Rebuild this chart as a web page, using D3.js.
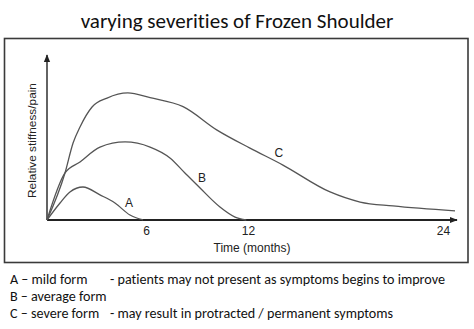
<!DOCTYPE html>
<html><head><meta charset="utf-8">
<script src="https://cdn.jsdelivr.net/npm/d3@7"></script>
<style>body{margin:0;background:#fff} text{font-variant-ligatures:none;font-feature-settings:"liga" 0}</style>
</head><body>
<svg id="c" width="474" height="329"></svg>
<script>
const title = "varying severities of Frozen Shoulder";
const xTickValues = [6, 12, 24];
const xLabel = "Time (months)";
const yLabel = "Relative stiffness/pain";
const seriesA = [[0,0],[0.79,10.3],[1.39,17],[2.18,20],[3.21,15.2],[4.12,10.3],[5.03,3],[5.82,0]];
const seriesB = [[0,0],[1.09,28.5],[2,35.2],[3.21,44.2],[4.73,47.3],[6.24,44.2],[7.41,37.6],[8.29,28.5],[9.18,19.4],[10.35,7.9],[11.24,1.8],[11.9,0]];
const seriesC = [[0,0],[1.09,28.5],[1.58,46.7],[2,56.4],[2.73,68.5],[3.64,73.9],[4.9,77],[6.24,74.1],[8.18,68.7],[10.18,54.5],[12.12,43.6],[14.15,33.3],[17.05,17],[18.9,10.9],[20.92,8.5],[24.74,5.5]];
const seriesNames = ["A","B","C"];
const labelPos = [[4.97,7.6],[9.3,23.3],[13.9,37.9]];
const legendLeft = ["A \u2013 mild form","B \u2013 average form","C \u2013 severe form"];
const legendRight = ["- patients may not present as symptoms begins to improve","","- may result in protracted / permanent symptoms"];

const svg = d3.select("#c");
const sans = "Carlito, Lato, 'Open Sans', sans-serif";
const arial = "'Liberation Sans', Arial, sans-serif";

// frame
svg.append("rect").attr("x",4.5).attr("y",38.5).attr("width",463.5).attr("height",224)
  .attr("fill","none").attr("stroke","#3a3a3a").attr("stroke-width",1.6);

const x = d3.scaleLinear().domain([0,6,12,24]).range([47,146,248,443]);
const y = d3.scaleLinear().domain([0,100]).range([220,55]);

// title
const t = svg.append("text").attr("x",237).attr("y",28).attr("text-anchor","middle")
  .attr("font-family",sans).attr("font-size",20).attr("fill","#111").text(title);
const tw = t.node().getComputedTextLength();
t.attr("font-size", 20*313/tw);

// arrows
const defs = svg.append("defs");
defs.append("marker").attr("id","arr").attr("viewBox","0 0 10 10").attr("refX",9).attr("refY",5)
  .attr("markerWidth",8).attr("markerHeight",8).attr("markerUnits","userSpaceOnUse").attr("orient","auto")
  .append("path").attr("d","M0,1L10,5L0,9Z").attr("fill","#222");

// axes lines
svg.append("line").attr("x1",x(0)).attr("y1",y(0)).attr("x2",x(24.86)).attr("y2",y(0))
  .attr("stroke","#222").attr("stroke-width",1.8).attr("marker-end","url(#arr)");
svg.append("line").attr("x1",x(0)).attr("y1",y(0)).attr("x2",x(0)).attr("y2",y(100))
  .attr("stroke","#222").attr("stroke-width",1.4).attr("marker-end","url(#arr)");

// tick labels via axis
const ax = svg.append("g").attr("transform",`translate(0,${y(0)})`)
  .call(d3.axisBottom(x).tickValues(xTickValues).tickSize(0).tickPadding(6).tickFormat(d3.format("d")));
ax.select(".domain").remove();
ax.selectAll("text").attr("font-family",arial).attr("font-size",12).attr("fill","#222");

svg.append("text").attr("x",252).attr("y",252).attr("text-anchor","middle")
  .attr("font-family",arial).attr("font-size",12).attr("fill","#222").text(xLabel);
const yl = svg.append("text").attr("transform","translate(36,140.5) rotate(-90)").attr("text-anchor","middle")
  .attr("font-family",arial).attr("font-size",12).attr("fill","#222").text(yLabel);
yl.attr("font-size", 12*115/yl.node().getComputedTextLength());

// curves
const line = d3.line().x(d=>x(d[0])).y(d=>y(d[1])).curve(d3.curveMonotoneX);
[seriesA, seriesB, seriesC].forEach(s=>{
  svg.append("path").attr("d",line(s)).attr("fill","none").attr("stroke","#555").attr("stroke-width",1.3);
});
seriesNames.forEach((n,i)=>{
  svg.append("text").attr("x",x(labelPos[i][0])).attr("y",y(labelPos[i][1])).attr("text-anchor","middle")
    .attr("font-family",arial).attr("font-size",12).attr("fill","#222").text(n);
});

// legend text
const baselines = [284, 300.7, 317.5];
const probe = svg.append("text").attr("font-family",sans).attr("font-size",14).text(legendRight[0]);
const lfs = 14*335/probe.node().getComputedTextLength();
probe.remove();
legendLeft.forEach((s,i)=>{
  svg.append("text").attr("x",10).attr("y",baselines[i]).attr("font-family",sans).attr("font-size",lfs)
    .attr("fill","#111").text(s);
});
legendRight.forEach((s,i)=>{
  if(!s) return;
  svg.append("text").attr("x",110).attr("y",baselines[i]).attr("font-family",sans).attr("font-size",lfs)
    .attr("fill","#111").text(s);
});
</script>
</body></html>
